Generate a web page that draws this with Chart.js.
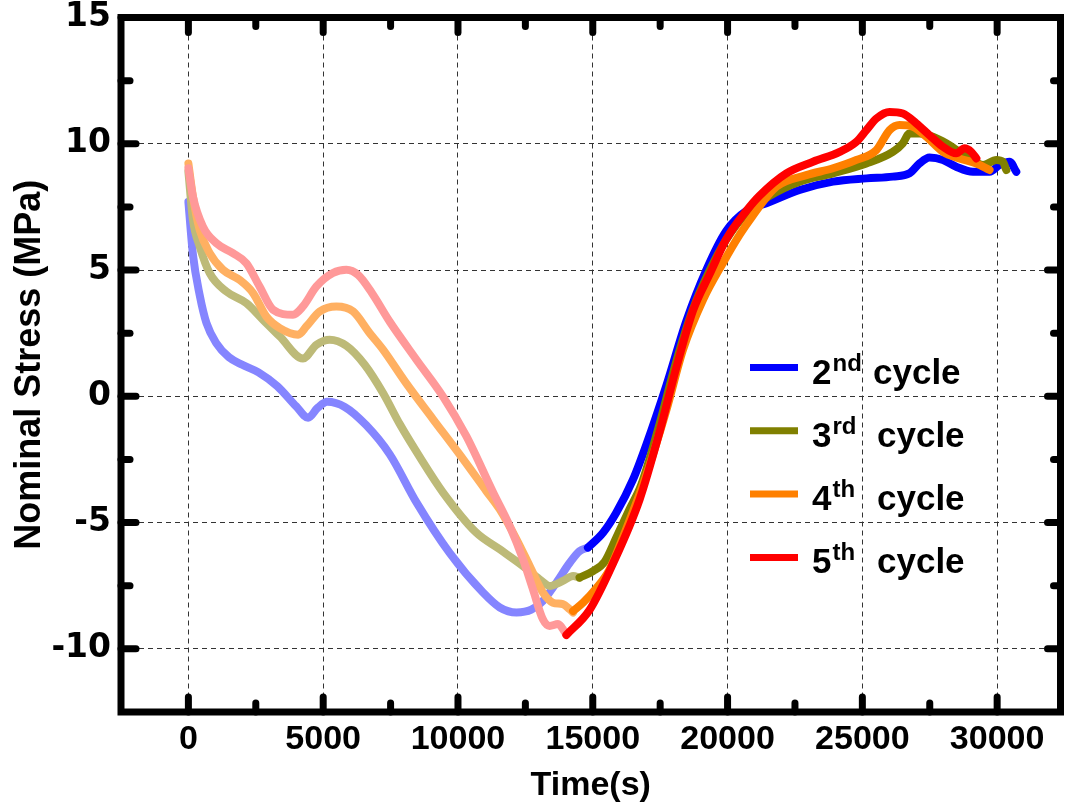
<!DOCTYPE html>
<html>
<head>
<meta charset="utf-8">
<title>Nominal stress vs time</title>
<script src="https://cdn.jsdelivr.net/npm/chart.js@4.4.1/dist/chart.umd.min.js"></script>
<style>
  html, body { margin: 0; padding: 0; background: #fff; }
</style>
</head>
<body>
<canvas id="stressChart" width="1065" height="808"></canvas>
<script>
// axis ticks
const xTicks = [0, 5000, 10000, 15000, 20000, 25000, 30000];
const yTicks = [-10, -5, 0, 5, 10, 15];

// 2nd cycle - unloading (faded) and loading part
const c2DownT = [0, 170, 420, 670, 1040, 1500, 2000, 2600, 3300, 4000, 4440, 4800, 5150, 5800, 6600, 7470, 8460, 9690, 10930, 11550, 12170, 12720, 13150, 13650, 14140, 14510, 14820];
const c2DownS = [7.7, 5.6, 4.0, 2.9, 2.1, 1.55, 1.25, 0.95, 0.4, -0.4, -0.85, -0.45, -0.22, -0.42, -1.15, -2.3, -4.2, -6.2, -7.77, -8.36, -8.56, -8.45, -8.1, -7.38, -6.6, -6.13, -5.99];
const c2UpT = [14820, 15380, 15870, 16490, 16990, 17730, 18470, 19210, 19950, 20700, 21440, 22670, 23910, 25150, 26130, 26750, 27120, 27490, 27990, 28480, 29100, 29720, 30090, 30460, 30710];
const c2UpS = [-5.99, -5.4, -4.61, -3.3, -1.9, 0.43, 2.98, 5.0, 6.55, 7.35, 7.64, 8.17, 8.5, 8.63, 8.7, 8.83, 9.22, 9.46, 9.36, 9.09, 8.89, 8.89, 9.16, 9.29, 8.89];

// 3rd cycle
const c3DownT = [0, 170, 420, 790, 1410, 2150, 2770, 3390, 4250, 4750, 5240, 5860, 6540, 7220, 7840, 8580, 9440, 10680, 11550, 12410, 13030, 13400, 13890, 14270, 14510];
const c3DownS = [8.9, 6.98, 5.93, 4.88, 4.15, 3.69, 3.03, 2.37, 1.5, 2.04, 2.24, 2.0, 1.25, 0.13, -1.1, -2.4, -3.8, -5.4, -6.06, -6.72, -7.25, -7.51, -7.31, -7.11, -7.18];
const c3UpT = [14510, 15010, 15440, 15870, 16350, 16800, 17450, 18050, 18700, 19300, 19950, 20700, 21500, 22670, 23910, 25150, 26130, 26500, 26750, 27120, 27620, 28110, 28600, 28980, 29480, 29970, 30210, 30340];
const c3UpS = [-7.18, -6.92, -6.55, -5.6, -4.5, -3.5, -1.2, 1.2, 3.4, 4.9, 6.2, 7.25, 7.9, 8.5, 8.83, 9.22, 9.68, 10.02, 10.41, 10.41, 10.28, 10.02, 9.68, 9.42, 9.16, 9.36, 9.29, 8.96];

// 4th cycle
const c4DownT = [0, 170, 420, 790, 1280, 1900, 2400, 2890, 3390, 4070, 4380, 4870, 5490, 6110, 6720, 7220, 8090, 9070, 10060, 11050, 11550, 12170, 12660, 13150, 13520, 13890, 14140, 14270];
const c4DownS = [9.22, 7.9, 6.59, 5.67, 5.01, 4.61, 4.09, 3.16, 2.7, 2.44, 2.77, 3.36, 3.56, 3.36, 2.51, 1.85, 0.5, -0.9, -2.3, -3.75, -4.48, -5.66, -6.72, -7.77, -8.17, -8.23, -8.43, -8.56];
const c4UpT = [14270, 14640, 15130, 15600, 16000, 16990, 17730, 18350, 19090, 19840, 20450, 20900, 21810, 22920, 23910, 24780, 25520, 26010, 26380, 26870, 27370, 27990, 28600, 29230, 29720];
const c4UpS = [-8.5, -8.17, -7.6, -6.9, -5.9, -3.1, -0.55, 1.85, 3.82, 5.3, 6.4, 7.1, 8.3, 8.76, 9.03, 9.36, 9.75, 10.54, 10.74, 10.67, 10.28, 9.68, 9.42, 9.22, 8.96];

// 5th cycle
const c5DownT = [0, 170, 540, 1040, 1650, 2150, 2640, 3140, 3880, 4250, 4750, 5360, 5860, 6300, 6800, 7470, 8460, 9440, 10310, 11300, 11920, 12410, 12780, 13150, 13400, 13710, 14020];
const c5DownS = [9.03, 7.9, 6.72, 6.06, 5.67, 5.27, 4.35, 3.43, 3.23, 3.56, 4.35, 4.88, 5.01, 4.8, 4.1, 2.95, 1.45, 0.0, -1.58, -3.8, -5.14, -6.45, -7.64, -8.83, -9.09, -9.02, -9.42];
const c5UpT = [14020, 14880, 15750, 16740, 17480, 18100, 18720, 19340, 19950, 20700, 21190, 22180, 23170, 24160, 24780, 25150, 25520, 26010, 26500, 27000, 27490, 27990, 28480, 28790, 29040, 29230];
const c5UpS = [-9.45, -8.46, -6.62, -4.08, -1.4, 1.14, 3.4, 4.85, 6.22, 7.35, 7.95, 8.83, 9.29, 9.68, 10.08, 10.54, 11.0, 11.26, 11.2, 10.81, 10.34, 9.88, 9.62, 9.82, 9.68, 9.42];

const legendParts = [['2', 'nd'], ['3', 'rd'], ['4', 'th'], ['5', 'th']];

const colors = {
  c2: '#0000ff', c2Light: '#8585ff',
  c3: '#808000', c3Light: '#bdba78',
  c4: '#ff8000', c4Light: '#ffb062',
  c5: '#ff0000', c5Light: '#ff9999'
};

function pts(t, s) {
  return t.map((v, i) => ({ x: v, y: s[i] }));
}

function line(label, t, s, color, order) {
  return {
    label: label,
    data: pts(t, s),
    borderColor: color,
    backgroundColor: color,
    borderWidth: 8,
    pointRadius: 0,
    cubicInterpolationMode: 'monotone',
    borderJoinStyle: 'round',
    borderCapStyle: 'round',
    order: order
  };
}

// lower order is drawn on top
const datasets = [
  line('2nd cycle', c2UpT, c2UpS, colors.c2, 4),
  line('3rd cycle', c3UpT, c3UpS, colors.c3, 3),
  line('4th cycle', c4UpT, c4UpS, colors.c4, 2),
  line('5th cycle', c5UpT, c5UpS, colors.c5, 1),
  line('2nd unload', c2DownT, c2DownS, colors.c2Light, 8),
  line('3rd unload', c3DownT, c3DownS, colors.c3Light, 7),
  line('4th unload', c4DownT, c4DownS, colors.c4Light, 6),
  line('5th unload', c5DownT, c5DownS, colors.c5Light, 5)
];

// thick box with inward tick marks
const framePlugin = {
  id: 'frame',
  afterDraw(chart) {
    const { ctx, chartArea: a, scales: { x, y } } = chart;
    ctx.save();
    ctx.strokeStyle = '#000';
    ctx.lineWidth = 7;
    ctx.lineCap = 'round';
    for (let v = 0; v <= 30000; v += 2500) {
      const px = x.getPixelForValue(v);
      const len = v % 5000 === 0 ? 15 : 9;
      ctx.beginPath(); ctx.moveTo(px, a.bottom); ctx.lineTo(px, a.bottom - len); ctx.stroke();
      ctx.beginPath(); ctx.moveTo(px, a.top); ctx.lineTo(px, a.top + len); ctx.stroke();
    }
    for (let v = -10; v <= 15; v += 2.5) {
      const py = y.getPixelForValue(v);
      const len = v % 5 === 0 ? 15 : 9;
      ctx.beginPath(); ctx.moveTo(a.left, py); ctx.lineTo(a.left + len, py); ctx.stroke();
      ctx.beginPath(); ctx.moveTo(a.right, py); ctx.lineTo(a.right - len + 2, py); ctx.stroke();
    }
    ctx.lineCap = 'butt';
    ctx.strokeRect(a.left, a.top, a.right - a.left, a.bottom - a.top);
    ctx.restore();
  }
};

// legend inside the plot, with superscript ordinals
const legendPlugin = {
  id: 'cycleLegend',
  afterDatasetsDraw(chart) {
    const { ctx, chartArea: a } = chart;
    const lx = a.left + 629;
    const ly = a.top + 350;
    const gap = 63.3;
    ctx.save();
    ctx.textBaseline = 'alphabetic';
    ctx.fillStyle = '#000';
    legendParts.forEach((p, i) => {
      const yy = ly + i * gap;
      ctx.strokeStyle = datasets[i].borderColor;
      ctx.lineWidth = 7;
      ctx.beginPath(); ctx.moveTo(lx, yy); ctx.lineTo(lx + 48, yy); ctx.stroke();
      let tx = lx + 62;
      ctx.font = 'bold 35px "Liberation Sans"';
      ctx.fillText(p[0], tx, yy + 16);
      tx += ctx.measureText(p[0]).width + 1;
      ctx.font = 'bold 24px "Liberation Sans"';
      ctx.fillText(p[1], tx, yy + 3);
      ctx.font = 'bold 35px "Liberation Sans"';
      ctx.fillText('cycle', lx + (i === 0 ? 123 : 127), yy + 16);
    });
    ctx.restore();
  }
};

const ctx = document.getElementById('stressChart').getContext('2d');

let chart = new Chart(ctx, {
  type: 'line',
  data: { datasets: datasets },
  options: {
    responsive: false,
    animation: false,
    layout: { padding: { top: 17.5, right: 4.5, left: 0, bottom: 0 } },
    plugins: { legend: { display: false }, tooltip: { enabled: false } },
    scales: {
      x: {
        type: 'linear',
        min: -2500,
        max: 32350,
        afterBuildTicks: (s) => { s.ticks = xTicks.map(v => ({ value: v })); },
        afterFit: (s) => { s.height = 96; },
        grid: { color: '#333', lineWidth: 1, drawTicks: true, tickLength: 11, tickColor: 'rgba(0,0,0,0)' },
        border: { display: false, dash: [5, 4] },
        ticks: {
          color: '#000',
          padding: 0,
          maxRotation: 0,
          font: { family: 'Liberation Sans', size: 34, weight: 'bold', lineHeight: 1 },
          callback: (v) => String(v)
        },
        title: {
          display: true,
          text: 'Time(s)',
          color: '#000',
          font: { family: 'Liberation Sans', size: 34, weight: 'bold', lineHeight: 1 },
          padding: { top: 0, bottom: 5 }
        }
      },
      y: {
        type: 'linear',
        min: -12.5,
        max: 15,
        afterBuildTicks: (s) => { s.ticks = yTicks.map(v => ({ value: v })); },
        afterFit: (s) => { s.width = 121; },
        grid: { color: '#333', lineWidth: 1, drawTicks: true, tickLength: 10, tickColor: 'rgba(0,0,0,0)' },
        border: { display: false, dash: [5, 4] },
        ticks: {
          color: '#000',
          padding: 0,
          font: { family: 'DejaVu Sans', size: 33, weight: 'bold', lineHeight: 1 },
          callback: (v) => String(v)
        },
        title: {
          display: true,
          text: 'Nominal Stress (MPa)',
          color: '#000',
          font: { family: 'Liberation Sans', size: 36, weight: 'bold', lineHeight: 1 },
          padding: { top: 12, bottom: 0 }
        }
      }
    }
  },
  plugins: [legendPlugin, framePlugin]
});
</script>
</body>
</html>
